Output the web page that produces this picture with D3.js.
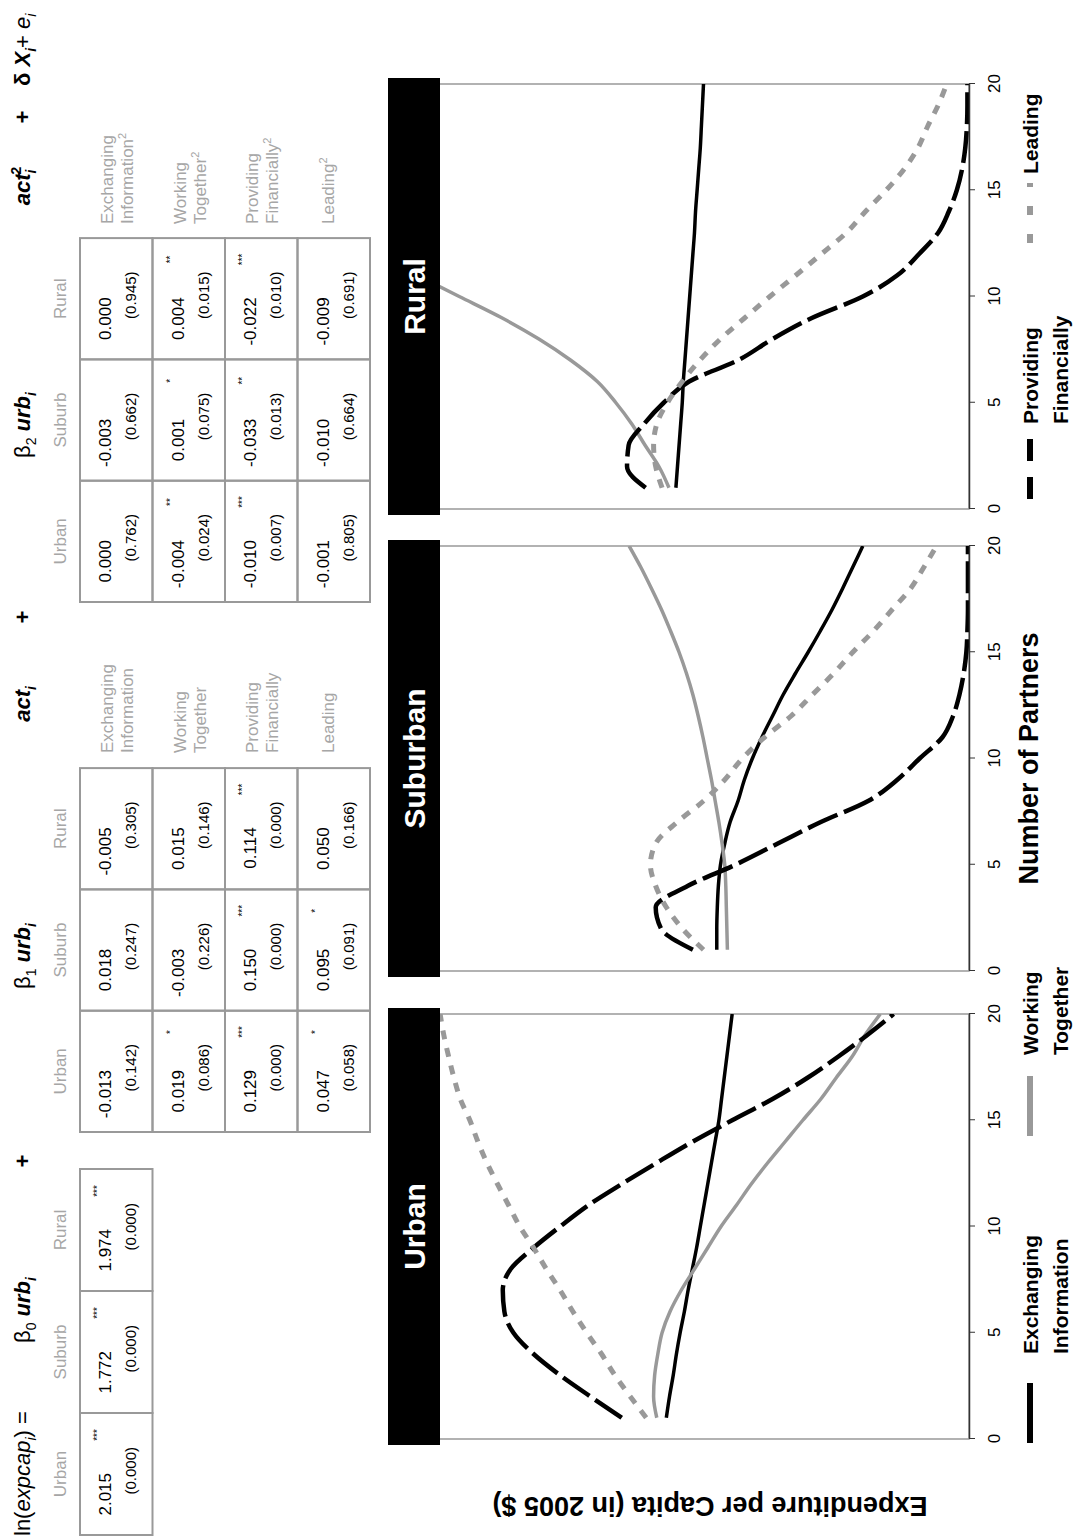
<!DOCTYPE html>
<html>
<head>
<meta charset="utf-8">
<script src="https://cdn.jsdelivr.net/npm/d3@7"></script>
<style>
  body { margin: 0; background: #fff; }
  svg { display: block; font-family: "Liberation Sans", Arial, Helvetica, sans-serif; }
</style>
</head>
<body>
<svg id="chart"></svg>
<script>
// ---- regression table values ----
const areas = ["Urban", "Suburb", "Rural"];
const actLabels = [["Exchanging", "Information"], ["Working", "Together"], ["Providing", "Financially"], ["Leading"]];

const b0Coef = ["2.015", "1.772", "1.974"];
const b0P = ["(0.000)", "(0.000)", "(0.000)"];
const b0Stars = ["***", "***", "***"];

const b1Coef = [["-0.013", "0.018", "-0.005"], ["0.019", "-0.003", "0.015"], ["0.129", "0.150", "0.114"], ["0.047", "0.095", "0.050"]];
const b1P = [["(0.142)", "(0.247)", "(0.305)"], ["(0.086)", "(0.226)", "(0.146)"], ["(0.000)", "(0.000)", "(0.000)"], ["(0.058)", "(0.091)", "(0.166)"]];
const b1Stars = [["", "", ""], ["*", "", ""], ["***", "***", "***"], ["*", "*", ""]];

const b2Coef = [["0.000", "-0.003", "0.000"], ["-0.004", "0.001", "0.004"], ["-0.010", "-0.033", "-0.022"], ["-0.001", "-0.010", "-0.009"]];
const b2P = [["(0.762)", "(0.662)", "(0.945)"], ["(0.024)", "(0.075)", "(0.015)"], ["(0.007)", "(0.013)", "(0.010)"], ["(0.805)", "(0.664)", "(0.691)"]];
const b2Stars = [["", "", ""], ["**", "*", "**"], ["***", "**", "***"], ["", "", ""]];

// ---- predicted curves (relative height in plot, 0 = axis, 100 = top) ----
const partners = [1, 2, 3, 4, 5, 6, 7, 8, 9, 10, 11, 12, 13, 14, 15, 16, 17, 18, 19, 20];
const xTicks = [0, 5, 10, 15, 20];
const panelNames = ["Urban", "Suburban", "Rural"];

const urbanExch = [57.0, 56.4, 55.7, 55.1, 54.4, 53.6, 52.9, 52.1, 51.3, 50.6, 49.9, 49.2, 48.5, 47.8, 47.1, 46.6, 46.1, 45.6, 45.1, 44.6];
const urbanWork = [58.8, 59.4, 59.2, 58.6, 57.8, 56.3, 54.2, 51.7, 49.2, 46.7, 43.8, 41.0, 37.9, 34.6, 31.3, 27.9, 25.0, 22.0, 19.6, 16.7];
const urbanProv = [65.4, 71.3, 77.0, 82.0, 85.8, 87.5, 87.8, 86.3, 82.0, 77.0, 71.7, 65.4, 58.8, 52.0, 44.6, 37.0, 30.4, 24.6, 19.2, 14.2];
const urbanLead = [60.8, 63.8, 66.7, 69.2, 72.0, 74.6, 77.0, 79.6, 82.0, 84.6, 86.7, 88.8, 90.8, 92.5, 94.0, 95.8, 97.0, 98.0, 98.9, 99.6];

const suburbExch = [47.5, 47.5, 47.4, 47.2, 46.8, 46.0, 45.0, 43.5, 42.3, 40.8, 39.0, 37.0, 35.0, 32.7, 30.3, 28.0, 25.8, 23.8, 21.9, 20.0];
const suburbWork = [45.5, 45.6, 45.7, 45.8, 46.0, 46.5, 47.1, 47.8, 48.5, 49.3, 50.1, 51.0, 52.0, 53.2, 54.6, 56.2, 57.9, 59.8, 61.8, 64.0];
const suburbProv = [52.0, 58.0, 59.0, 53.0, 44.0, 36.0, 28.0, 19.0, 13.5, 9.3, 5.0, 3.0, 1.8, 1.0, 0.5, 0.3, 0.2, 0.2, 0.2, 0.2];
const suburbLead = [50.0, 54.0, 57.0, 59.0, 60.0, 59.0, 55.0, 50.0, 46.0, 42.7, 38.5, 33.5, 29.5, 25.5, 21.9, 18.0, 14.5, 11.0, 8.5, 6.1];

const ruralExch = [55.2, 54.9, 54.6, 54.3, 54.0, 53.8, 53.5, 53.2, 52.9, 52.6, 52.3, 52.0, 51.7, 51.5, 51.2, 50.9, 50.6, 50.4, 50.2, 50.0];
const ruralWork = [56.5, 58.4, 61.0, 63.5, 66.5, 70.0, 75.0, 81.0, 88.0, 96.0, 104.0];
const ruralProv = [60.9, 64.4, 64.1, 61.2, 57.5, 52.7, 43.5, 37.0, 29.5, 20.0, 13.5, 9.4, 5.8, 3.8, 2.3, 1.3, 0.7, 0.4, 0.3, 0.3];
const ruralLead = [57.8, 59.0, 59.4, 58.8, 56.8, 54.0, 50.7, 46.8, 42.2, 37.5, 32.6, 27.8, 23.1, 19.5, 15.6, 12.2, 9.6, 7.8, 5.8, 4.2];

const seriesNames = ["Exchanging Information", "Working Together", "Providing Financially", "Leading"];
const panelSeries = [
    [urbanExch, urbanWork, urbanProv, urbanLead],
    [suburbExch, suburbWork, suburbProv, suburbLead],
    [ruralExch, ruralWork, ruralProv, ruralLead]
];

// ---- drawing ----
const svg = d3.select("#chart").attr("width", 1076).attr("height", 1539);
svg.append("rect").attr("width", 1076).attr("height", 1539).attr("fill", "#fff");
// the figure is laid out landscape and turned a quarter to the left
const g = svg.append("g").attr("transform", "translate(0,1539) rotate(-90)");

const gray = "#999999";
const labelGray = "#a6a6a6";
const styles = [
    {color: "#000", width: 3.5, dash: null},
    {color: gray, width: 3.5, dash: null},
    {color: "#000", width: 4.5, dash: "32,7"},
    {color: gray, width: 5, dash: "9,9"}
];

// equation line
const eqY = 30;
function eq(x, anchor, parts) {
    const t = g.append("text").attr("x", x).attr("y", eqY)
        .attr("text-anchor", anchor).attr("font-size", 22).attr("fill", "#000");
    let shift = 0;
    parts.forEach(p => {
        const ts = t.append("tspan").text(p.t);
        const target = p.sub ? 6 : (p.sup ? -9 : 0);
        let dy = target - shift;
        if (dy !== 0) ts.attr("dy", dy);
        shift = target;
        if (p.sub || p.sup) ts.attr("font-size", 14);
        if (p.b) ts.attr("font-weight", "bold");
        if (p.i) ts.attr("font-style", "italic");
        if (p.dx) ts.attr("dx", p.dx);
    });
}
eq(3, "start", [{t: "ln("}, {t: "expcap", i: 1}, {t: "i", i: 1, sub: 1}, {t: ") ="}]);
eq(229, "middle", [{t: "β"}, {t: "0", sub: 1}, {t: "  "}, {t: "urb", b: 1, i: 1}, {t: "i", b: 1, i: 1, sub: 1}]);
eq(378, "middle", [{t: "+", b: 1}]);
eq(583, "middle", [{t: "β"}, {t: "1", sub: 1}, {t: "  "}, {t: "urb", b: 1, i: 1}, {t: "i", b: 1, i: 1, sub: 1}]);
eq(835, "middle", [{t: "act", b: 1, i: 1}, {t: "i", b: 1, i: 1, sub: 1}]);
eq(922, "middle", [{t: "+", b: 1}]);
eq(1114, "middle", [{t: "β"}, {t: "2", sub: 1}, {t: "  "}, {t: "urb", b: 1, i: 1}, {t: "i", b: 1, i: 1, sub: 1}]);
eq(1353, "middle", [{t: "act", b: 1, i: 1}, {t: "i", b: 1, i: 1, sub: 1}, {t: "2", b: 1, sup: 1, dx: -5}]);
eq(1422, "middle", [{t: "+", b: 1}]);
eq(1453, "start", [{t: "δ ", b: 1}, {t: "X", b: 1, i: 1}, {t: "i", b: 1, i: 1, sub: 1}, {t: "+ "}, {t: "e", i: 1}, {t: "i", i: 1, sub: 1}]);

// tables
const rowTops = [80, 152.5, 225, 297.5, 370];
function drawTable(x0, colW, coefs, pvals, stars) {
    const nRows = coefs.length;
    const tg = g.append("g");
    areas.forEach((a, j) => {
        tg.append("text").attr("x", x0 + colW * (j + 0.5)).attr("y", 66)
            .attr("text-anchor", "middle").attr("font-size", 17).attr("fill", labelGray).text(a);
    });
    for (let r = 0; r < nRows; r++) {
        for (let j = 0; j < 3; j++) {
            const cx = x0 + colW * j, cy = rowTops[r];
            tg.append("rect").attr("x", cx).attr("y", cy).attr("width", colW).attr("height", rowTops[r + 1] - cy)
                .attr("fill", "none").attr("stroke", gray).attr("stroke-width", 2);
            tg.append("text").attr("x", cx + 62).attr("y", cy + 31).attr("text-anchor", "end")
                .attr("font-size", 17).text(coefs[r][j]);
            tg.append("text").attr("x", cx + 88).attr("y", cy + 56).attr("text-anchor", "end")
                .attr("font-size", 15).text(pvals[r][j]);
            if (stars[r][j]) {
                tg.append("text").attr("x", cx + 100).attr("y", cy + 21).attr("text-anchor", "middle")
                    .attr("font-size", 10).text(stars[r][j]);
            }
        }
    }
}
drawTable(4, 122, [b0Coef], [b0P], [b0Stars]);
drawTable(407, 121.3, b1Coef, b1P, b1Stars);
drawTable(937, 121.3, b2Coef, b2P, b2Stars);

function drawRowLabels(x0, squared) {
    actLabels.forEach((lines, r) => {
        const t = g.append("text").attr("x", x0).attr("font-size", 17).attr("fill", labelGray);
        const top = rowTops[r];
        lines.forEach((ln, k) => {
            const yy = lines.length === 1 ? top + 36 : top + 33 + k * 20;
            t.append("tspan").attr("x", x0).attr("y", yy).text(ln);
            if (squared && k === lines.length - 1) {
                t.append("tspan").attr("dy", -7).attr("font-size", 11).text("2");
            }
        });
    });
}
drawRowLabels(786, false);
drawRowLabels(1315, true);

// plots
const plotTop = 438, plotBottom = 969, panelW = 425;
const panelX = [100, 568, 1030];
const y = d3.scaleLinear().domain([0, 100]).range([plotBottom, plotTop]);

panelNames.forEach((name, i) => {
    const x0 = panelX[i];
    const x = d3.scaleLinear().domain([0, 20]).range([x0, x0 + panelW]);
    const pg = g.append("g");

    pg.append("clipPath").attr("id", "clip" + i)
        .append("rect").attr("x", x0).attr("y", plotTop).attr("width", panelW).attr("height", plotBottom - plotTop);

    pg.append("rect").attr("x", x0).attr("y", plotTop).attr("width", panelW).attr("height", plotBottom - plotTop)
        .attr("fill", "none").attr("stroke", gray).attr("stroke-width", 1.5);

    const line = d3.line()
        .curve(d3.curveMonotoneX)
        .x((d, k) => x(partners[k]))
        .y(d => y(d));

    const lines = pg.append("g").attr("clip-path", "url(#clip" + i + ")");
    panelSeries[i].forEach((vals, s) => {
        const st = styles[s];
        lines.append("path")
            .datum(vals)
            .attr("fill", "none")
            .attr("stroke", st.color)
            .attr("stroke-width", st.width)
            .attr("stroke-dasharray", st.dash)
            .attr("stroke-linejoin", "round")
            .attr("d", line);
    });

    const axis = pg.append("g").attr("transform", "translate(0," + plotBottom + ")")
        .call(d3.axisBottom(x).tickValues(xTicks).tickSize(6).tickSizeOuter(0).tickPadding(13));
    axis.select(".domain").attr("stroke", "#333").attr("stroke-width", 1.5);
    axis.selectAll(".tick line").attr("stroke", "#333");
    axis.selectAll(".tick text").attr("font-size", 17).attr("fill", "#000")
        .attr("font-family", "Liberation Sans, Arial, sans-serif");

    // panel header bar
    pg.append("rect").attr("x", x0 - 6).attr("y", 388).attr("width", panelW + 12).attr("height", 52).attr("fill", "#000");
    pg.append("text").attr("x", x0 + panelW / 2).attr("y", 425).attr("text-anchor", "middle")
        .attr("font-size", 30).attr("font-weight", "bold").attr("fill", "#fff").text(name);
});

// axis titles
g.append("text").attr("x", panelX[1] + panelW / 2).attr("y", 1038).attr("text-anchor", "middle")
    .attr("font-size", 27).attr("font-weight", "bold").text("Number of Partners");
g.append("text").attr("transform", "translate(42,710) rotate(-90)")
    .attr("text-anchor", "middle").attr("font-size", 27).attr("font-weight", "bold")
    .text("Expenditure per Capita (in 2005 $)");

// legend
const legendX = [96, 403, 1040, 1296];
const legendTextX = [185, 484, 1115, 1365];
const legendDash = [null, null, "22,16", "9,19"];
seriesNames.forEach((nm, s) => {
    const lx = legendX[s];
    const st = styles[s];
    g.append("line").attr("x1", lx).attr("x2", lx + 60).attr("y1", 1030).attr("y2", 1030)
        .attr("stroke", st.color).attr("stroke-width", 6).attr("stroke-dasharray", legendDash[s]);
    const words = nm.split(" ");
    const t = g.append("text").attr("font-size", 21).attr("font-weight", "bold");
    words.forEach((w, k) => {
        t.append("tspan").attr("x", legendTextX[s]).attr("y", 1038 + k * 30).text(w);
    });
});
</script>
</body>
</html>
